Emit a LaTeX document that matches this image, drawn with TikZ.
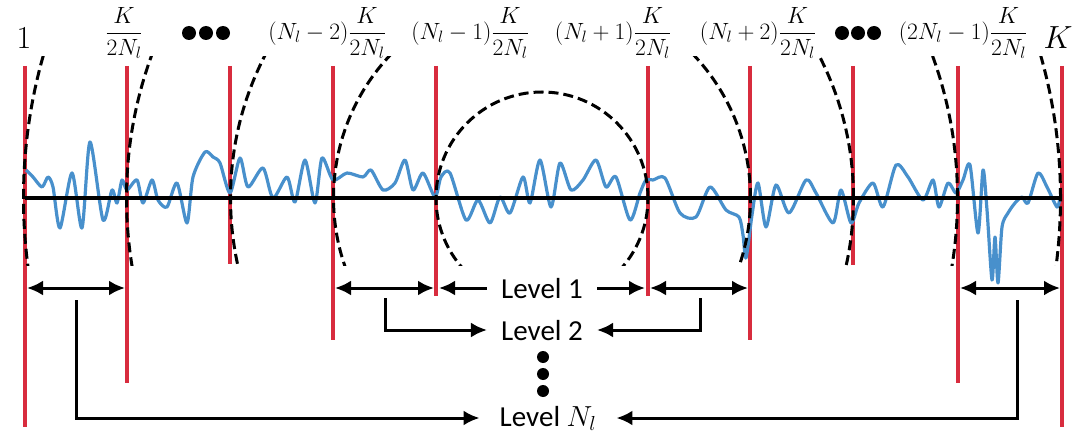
\RequirePackage{fix-cm}
\documentclass[tikz,border=0pt]{standalone}
\usepackage{fontspec}
\newfontfamily\levelfont{Carlito}
\usetikzlibrary{arrows.meta}
\newcommand\dfr[2]{{\displaystyle\frac{#1}{#2}}}
\definecolor{redl}{RGB}{216,44,62}
\definecolor{bluel}{RGB}{72,144,204}
\tikzset{
 redline/.style={draw=redl, line width=3.2pt},
 axisline/.style={draw=black, line width=3.4pt},
 sig/.style={draw=bluel, line width=3.2pt, line join=round},
 dasharc/.style={draw=black, line width=3pt, dash pattern=on 10pt off 5pt},
 tip/.style={-{Latex[length=16pt,width=15pt]}},
 arr/.style={draw=black, line width=3pt, tip},
 darr/.style={draw=black, line width=3pt, {Latex[length=16pt,width=15pt]}-{Latex[length=16pt,width=15pt]}, shorten <=2pt, shorten >=2pt},
 toplab/.style={font=\fontsize{23.5}{27}\selectfont, inner sep=0pt},
 biglab/.style={font=\fontsize{32}{36}\selectfont, inner sep=0pt},
 levlab/.style={font=\levelfont\fontsize{29}{34}\selectfont, inner xsep=14pt, inner ysep=0pt, text height=20pt, text depth=0pt},
 dotn/.style={circle, fill=black, inner sep=0pt, minimum size=14pt},
 vdot/.style={circle, fill=black, inner sep=0pt, minimum size=12pt},
}
\begin{document}
\begin{tikzpicture}[x=1pt,y=-1pt]
\useasboundingbox (0,0) rectangle (1089,433);
% red boundary lines
\foreach \n/\x/\b in {a/25/427, b/127/383, c/230/264, d/333/340, e/436/296, f/648/296, g/750/340, h/853/265, i/958/383, j/1062/427}{
  \coordinate (\n t) at (\x,66);
  \coordinate (\n b) at (\x,\b);
  \coordinate (\n m) at (\x,288);
  \draw[redline] (\n t) -- (\n b);
}
% signal
\draw[sig] plot[smooth, tension=0.45] coordinates {
(26,170) (33,177) (42,187) (48,177) (53,187) (60,228) (72,173) (82,228) (90,142) (103,220) (112,190) (117,203) (122,180) (127,190)
(137,180) (143,203) (152,180) (158,200) (167,207) (177,183) (187,223) (193,177) (205,152) (213,157) (220,163) (230,193)
(240,158) (248,187) (263,168) (273,198) (287,177) (295,202) (305,160) (315,203) (322,158) (333,180)
(347,173) (363,177) (371,170) (383,190) (395,183) (405,160) (413,190) (423,173) (435,197)
(441,177) (450,173) (466,220) (478,200) (490,223) (500,197) (510,213) (523,177) (530,203) (540,160) (551,207) (560,163) (571,190) (583,180) (596,160) (606,187) (616,177) (630,220) (640,193) (646,180)
(653,180) (665,178) (680,213) (696,217) (710,187) (726,210) (739,217) (743,235) (746,258) (752,215) (758,183) (766,227) (776,185) (789,213) (806,180) (816,193) (833,223) (841,190) (851,223)
(859,203) (873,183) (883,207) (896,165) (908,177) (923,200) (933,180) (939,207) (948,183) (956,193)
(963,180) (970,165) (978,233) (983,170) (987,210) (992,280) (995,237) (998,283) (1002,227) (1008,213) (1015,203) (1022,197) (1028,203) (1038,173) (1047,187) (1057,207) (1060,197)};
% axis
\coordinate (axL) at (25,198);
\coordinate (axR) at (1062,198);
\draw[axisline] (axL) -- (axR);
% dashed arcs
\coordinate (cc) at (542,198);
\begin{scope}
\clip (0,57) rectangle (1089,265);
\foreach \r in {106,208.5,311.5,415.5,518.5}{
  \draw[dasharc] (cc) circle[radius=\r pt];
}
\end{scope}
% top labels
\node[biglab] (one) at (24,38) {1};
\node[toplab] (f1) at (124,33) {$\dfr{K}{2N_l}$};
\node[dotn] (d1) at (189,33) {};
\node[dotn] (d2) at (206,33) {};
\node[dotn] (d3) at (223,33) {};
\node[toplab] (f2) at (327,33) {$(N_l-2)\dfr{K}{2N_l}$};
\node[toplab] (f3) at (470,33) {$(N_l-1)\dfr{K}{2N_l}$};
\node[toplab] (f4) at (613,33) {$(N_l+1)\dfr{K}{2N_l}$};
\node[toplab] (f5) at (758,33) {$(N_l+2)\dfr{K}{2N_l}$};
\node[dotn] (d4) at (842,33) {};
\node[dotn] (d5) at (858,33) {};
\node[dotn] (d6) at (874,33) {};
\node[toplab] (f6) at (963,33) {$(2N_l-1)\dfr{K}{2N_l}$};
\node[biglab] (kk) at (1058,38) {$K$};
% double arrows
\draw[darr] (am) -- (bm);
\draw[darr] (dm) -- (em);
\draw[darr] (fm) -- (gm);
\draw[darr] (im) -- (jm);
% level labels
\node[levlab] (L1) at (542,288) {Level 1};
\node[levlab] (L2) at (542,330) {Level 2};
\node[vdot] (v1) at (543,357) {};
\node[vdot] (v2) at (543,374) {};
\node[vdot] (v3) at (543,391) {};
\node[levlab, inner xsep=20pt] (LN) at (548,416) {Level $N_l$};
\draw[arr, shorten >=3pt] (L1.west) -- (L1.west -| em);
\draw[arr, shorten >=3pt] (L1.east) -- (L1.east -| fm);
\coordinate (s2l) at (385,298);
\coordinate (s2r) at (700,298);
\draw[arr] (s2l) |- (L2.west);
\draw[arr] (s2r) |- (L2.east);
\coordinate (snl) at (76,300);
\coordinate (snr) at (1017,300);
\draw[arr] (snl) |- ([yshift=-2pt]LN.west);
\draw[arr] (snr) |- ([yshift=-2pt]LN.east);
\end{tikzpicture}
\end{document}
